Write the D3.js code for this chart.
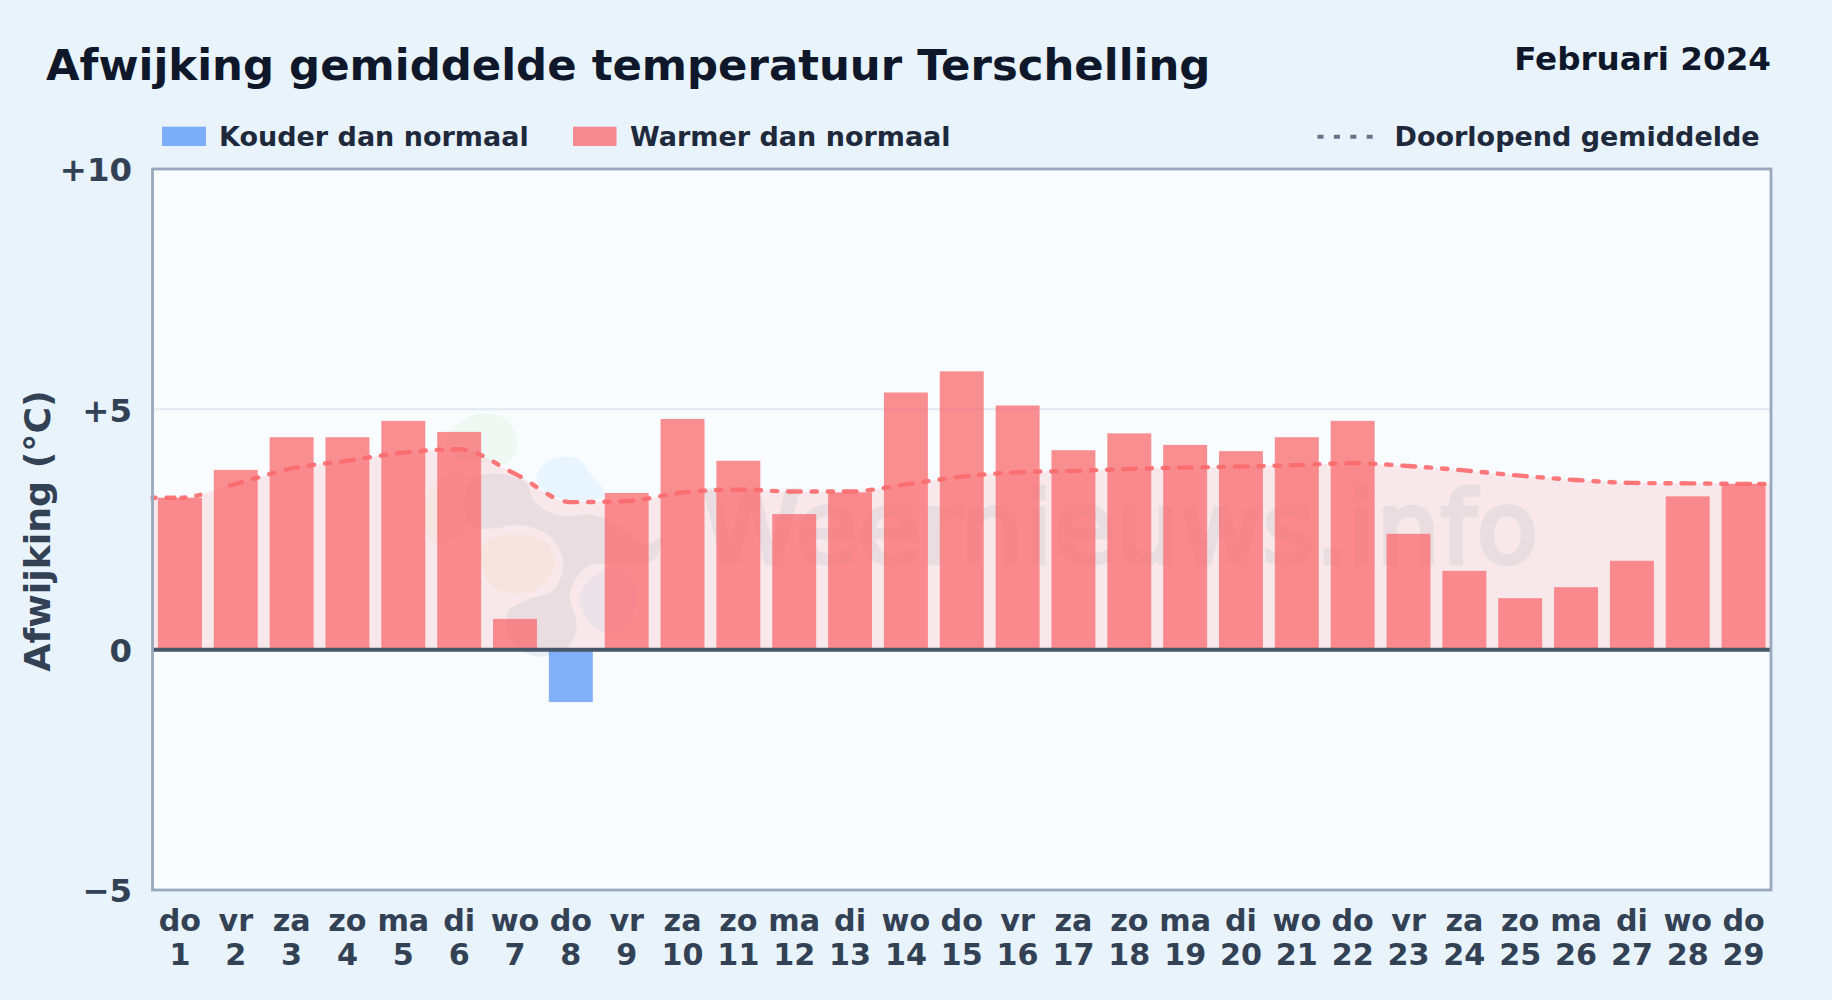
<!DOCTYPE html>
<html lang="nl">
<head>
<meta charset="utf-8">
<title>Afwijking gemiddelde temperatuur Terschelling</title>
<script src="https://cdn.jsdelivr.net/npm/d3@7/dist/d3.min.js"></script>
<style>
  html, body { margin: 0; padding: 0; background: #e8f3fc; }
  svg { display: block; font-family: "DejaVu Sans", sans-serif; font-weight: 700; }
</style>
</head>
<body>
<svg id="chart" width="1832" height="1000"></svg>
<script>
const titleText = "Afwijking gemiddelde temperatuur Terschelling";
const periodText = "Februari 2024";
const yAxisLabel = "Afwijking (°C)";
const watermarkText = "Weernieuws.info";
const legendCold = "Kouder dan normaal";
const legendWarm = "Warmer dan normaal";
const legendMean = "Doorlopend gemiddelde";

const weekdays = ["do","vr","za","zo","ma","di","wo","do","vr","za","zo","ma","di","wo","do","vr","za","zo","ma","di","wo","do","vr","za","zo","ma","di","wo","do"];
const days = [1,2,3,4,5,6,7,8,9,10,11,12,13,14,15,16,17,18,19,20,21,22,23,24,25,26,27,28,29];
const deviations = [3.16,3.74,4.42,4.42,4.76,4.53,0.64,-1.09,3.26,4.80,3.93,2.82,3.27,5.35,5.79,5.08,4.15,4.50,4.26,4.13,4.42,4.76,2.41,1.64,1.07,1.30,1.85,3.19,3.45];
const runningMean = [3.16,3.45,3.77,3.93,4.10,4.17,3.66,3.07,3.09,3.27,3.33,3.29,3.29,3.44,3.60,3.69,3.72,3.76,3.79,3.81,3.84,3.88,3.82,3.73,3.62,3.53,3.47,3.46,3.45];
const yTicks = [-5, 0, 5, 10];
const yDomain = [-5, 10];

const plot = { left: 152.5, right: 1771, top: 169, bottom: 890 };
const svg = d3.select("#chart");

const x = d3.scaleBand().domain(days).range([plot.left - 0.5, plot.right + 0.5]).paddingInner(0.213).paddingOuter(0.1065);
const y = d3.scaleLinear().domain(yDomain).range([plot.bottom, plot.top]);
const centre = d => x(d) + x.bandwidth() / 2;

svg.append("rect").attr("width", 1832).attr("height", 1000).attr("fill", "#e8f3fc");
svg.append("rect").attr("x", plot.left).attr("y", plot.top)
  .attr("width", plot.right - plot.left).attr("height", plot.bottom - plot.top).attr("fill", "#f8fcff");

// Gridline
svg.append("g").selectAll("line").data(yTicks.filter(t => t === 5)).join("line")
  .attr("x1", plot.left).attr("x2", plot.right)
  .attr("y1", d => y(d)).attr("y2", d => y(d))
  .attr("stroke", "#e2e8f0").attr("stroke-width", 2);

// Running mean: area and line run out to the plot edges
const meanPoints = [
  [plot.left, runningMean[0]],
  ...days.map((d, i) => [centre(d), runningMean[i]]),
  [plot.right, runningMean[runningMean.length - 1]]
];
const area = d3.area().x(d => d[0]).y0(y(0)).y1(d => y(d[1])).curve(d3.curveMonotoneX);
const line = d3.line().x(d => d[0]).y(d => y(d[1])).curve(d3.curveMonotoneX);

svg.append("path").attr("d", area(meanPoints)).attr("fill", "#f87171").attr("fill-opacity", 0.14);

// Faint logo and watermark behind the bars
const wm = svg.append("g");
const logoX = v => 360 + v / 3, logoY = v => 400 + v / 3;
const blob = d3.line().x(p => logoX(p[0])).y(p => logoY(p[1])).curve(d3.curveCatmullRomClosed.alpha(0.5));
const logoShapes = [
  { fill: "#64748b", op: 0.09, pts: [[330,240],[420,222],[500,250],[520,300],[590,345],[700,345],[760,370],[860,430],[905,415],[880,480],[760,490],[680,500],[630,580],[650,680],[620,745],[540,770],[470,740],[440,640],[500,600],[580,570],[610,490],[570,410],[480,375],[400,385],[330,375]] },
  { fill: "#f5d49a", op: 0.16, pts: [[370,430],[460,405],[550,420],[585,490],[540,560],[450,580],[380,540]] },
  { fill: "#7aa5dc", op: 0.09, pts: [[660,590],[700,530],[790,510],[830,600],[780,690],[700,680]] },
  { fill: "#7cc8f5", op: 0.13, pts: [[530,230],[570,180],[650,175],[690,220],[735,285],[640,300],[560,280]] },
  { fill: "#a9dc8c", op: 0.1, pts: [[260,110],[350,42],[440,60],[472,130],[440,190],[370,185],[280,170]] },
  { fill: "#f5d49a", op: 0.12, pts: [[190,300],[250,230],[330,230],[330,380],[230,430],[195,400]] }
];
wm.selectAll("path").data(logoShapes).join("path")
  .attr("d", s => blob(s.pts)).attr("fill", s => s.fill).attr("fill-opacity", s => s.op);
wm.append("text").attr("x", 702).attr("y", 563)
  .attr("font-size", 100).attr("font-weight", 400).attr("letter-spacing", 0.8)
  .attr("fill", "#64748b").attr("stroke", "#64748b").attr("stroke-width", 4.5)
  .attr("opacity", 0.09).text(watermarkText);

// Bars
svg.append("g").selectAll("rect").data(deviations).join("rect")
  .attr("x", (d, i) => x(days[i]))
  .attr("width", x.bandwidth())
  .attr("y", d => y(Math.max(d, 0)))
  .attr("height", d => Math.abs(y(d) - y(0)))
  .attr("fill", d => d < 0 ? "#3b82f6" : "#f96a6e")
  .attr("fill-opacity", d => d < 0 ? 0.62 : 0.76);

// Running-mean line; the dash rhythm repeats once per day with a long dash on each day centre
const meanPath = svg.append("path").attr("d", line(meanPoints))
  .attr("fill", "none").attr("stroke", "#fb6b6e").attr("stroke-opacity", 0.92)
  .attr("stroke-width", 4.4).attr("stroke-linecap", "round");
const node = meanPath.node();
const total = node.getTotalLength();
const lengthAtX = px => {
  let lo = 0, hi = total;
  for (let k = 0; k < 30; k++) {
    const mid = (lo + hi) / 2;
    if (node.getPointAtLength(mid).x < px) lo = mid; else hi = mid;
  }
  return lo;
};
const lens = days.map(d => lengthAtX(centre(d)));
const longDash = 12.7, dot = 5.3;
const head = [3, 11, 8, 7, 4, 11, 4];
const dashes = head.concat([lens[1] - longDash / 2 - d3.sum(head)]);
for (let i = 1; i < lens.length - 1; i++) {
  const gap = (lens[i + 1] - lens[i] - longDash - 2 * dot) / 3;
  dashes.push(longDash, gap, dot, gap, dot, gap);
}
dashes.push(longDash, 9, dot, 100);
meanPath.attr("stroke-dasharray", dashes.map(v => v.toFixed(2)).join(" "));

// Zero line and frame
svg.append("line").attr("x1", plot.left).attr("x2", plot.right).attr("y1", y(0)).attr("y2", y(0))
  .attr("stroke", "#475569").attr("stroke-width", 4);
svg.append("rect").attr("x", plot.left).attr("y", plot.top)
  .attr("width", plot.right - plot.left).attr("height", plot.bottom - plot.top)
  .attr("fill", "none").attr("stroke", "#98a9bd").attr("stroke-width", 2.8);

// Axes
const fmt = d => d > 0 ? "+" + d : d < 0 ? "\u2212" + Math.abs(d) : "0";
const yAxis = svg.append("g").attr("transform", `translate(${plot.left},0)`)
  .call(d3.axisLeft(y).tickValues(yTicks).tickFormat(fmt).tickSize(0).tickPadding(20.5));
yAxis.select(".domain").remove();
yAxis.selectAll("text").attr("font-size", 32.4).attr("font-family", "DejaVu Sans").attr("font-weight", 700)
  .attr("fill", "#334155").attr("dy", null).attr("y", 11.8);

const xAxis = svg.append("g").attr("transform", `translate(0,${plot.bottom})`)
  .call(d3.axisBottom(x).tickFormat("").tickSize(0));
xAxis.select(".domain").remove();
xAxis.selectAll("text").each(function (d, i) {
  const t = d3.select(this).text(null).attr("y", null).attr("dy", null)
    .attr("font-size", 30.2).attr("font-family", "DejaVu Sans").attr("font-weight", 700).attr("fill", "#334155");
  t.append("tspan").attr("x", 0).attr("y", 40.7).text(weekdays[i]);
  t.append("tspan").attr("x", 0).attr("y", 75).text(d);
});

svg.append("text").attr("transform", "translate(50,531) rotate(-90)")
  .attr("text-anchor", "middle").attr("font-size", 36.3).attr("fill", "#334155").text(yAxisLabel);

// Title
svg.append("text").attr("x", 46).attr("y", 79.5).attr("font-size", 43.4).attr("fill", "#0f172a").text(titleText);
svg.append("text").attr("x", 1771).attr("y", 70).attr("text-anchor", "end")
  .attr("font-size", 32.6).attr("fill", "#0f172a").text(periodText);

// Legend
const legend = svg.append("g").attr("font-size", 27).attr("fill", "#1e293b");
legend.append("rect").attr("x", 162).attr("y", 126.7).attr("width", 44).attr("height", 19.3)
  .attr("fill", "#3b82f6").attr("fill-opacity", 0.62);
legend.append("text").attr("x", 219).attr("y", 146).text(legendCold);
legend.append("rect").attr("x", 573).attr("y", 126.7).attr("width", 43.5).attr("height", 19.3)
  .attr("fill", "#f96a6e").attr("fill-opacity", 0.76);
legend.append("text").attr("x", 630).attr("y", 146).text(legendWarm);
legend.append("line").attr("x1", 1317.5).attr("x2", 1373).attr("y1", 136.7).attr("y2", 136.7)
  .attr("stroke", "#64748b").attr("stroke-width", 4).attr("stroke-dasharray", "6 10.4");
legend.append("text").attr("x", 1394.5).attr("y", 146).text(legendMean);
</script>
</body>
</html>
